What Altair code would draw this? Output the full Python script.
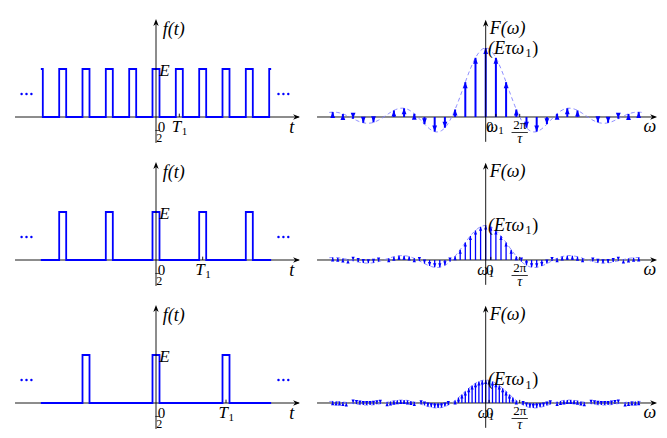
import altair as alt
import pandas as pd

# ---------------- data ----------------
# pulse train, time in units of tau (pulse width), amplitude E = 1
TAU = 1.0
PULSES = [
    [-16.67, -13.33, -10.0, -6.67, -3.33, 0.0, 3.33, 6.67, 10.0, 13.33, 16.67],
    [-13.33, -6.67, 0.0, 6.67, 13.33],
    [-10.0, 0.0, 10.0],
]
PERIODS = [3.33, 6.67, 10.0]          # T1 in units of tau
WINDOW = [-16.45, 16.45]              # drawn part of f(t)

# spectrum envelope (normalised), at omega/(2pi/tau) = 0, 0.05, 0.10, ... 4.60
ENV = [1.000, 0.996, 0.984, 0.963, 0.935, 0.900, 0.858, 0.810, 0.757, 0.699,
       0.637, 0.572, 0.505, 0.436, 0.368, 0.300, 0.234, 0.170, 0.109, 0.052,
       0.000, -0.047, -0.089, -0.126, -0.156, -0.180, -0.198, -0.210, -0.216, -0.217,
       -0.212, -0.203, -0.189, -0.172, -0.151, -0.129, -0.104, -0.078, -0.052, -0.026,
       0.000, 0.024, 0.047, 0.067, 0.085, 0.100, 0.112, 0.121, 0.126, 0.128,
       0.127, 0.123, 0.116, 0.107, 0.095, 0.082, 0.067, 0.051, 0.034, 0.017,
       0.000, -0.016, -0.032, -0.046, -0.058, -0.069, -0.078, -0.085, -0.089, -0.091,
       -0.091, -0.089, -0.084, -0.078, -0.070, -0.060, -0.049, -0.038, -0.025, -0.013,
       0.000, 0.012, 0.024, 0.035, 0.045, 0.053, 0.060, 0.065, 0.069, 0.071,
       0.071, 0.069, 0.066]
ENV_STEP = 0.05
W1 = [0.30, 0.15, 0.10]               # omega1 in units of 2pi/tau
STRIDE = [6, 3, 2]                    # omega1 / ENV_STEP
N_MAX = [15, 30, 45]                  # highest harmonic drawn
AMP = [1.0, 0.5, 0.333]               # E tau omega1 (relative)

# ---------------- styling ----------------
BLUE = "#0000ff"
ENV_COLOR = "#8080ff"
FONT = "Liberation Serif"
LW, RW, H = 300, 351, 143

LX = alt.Scale(domain=[-21.143, 21.714], nice=False, zero=False)
LY = alt.Scale(domain=[-0.708, 2.271], nice=False, zero=False)
RX = alt.Scale(domain=[-5.226, 5.097], nice=False, zero=False)
RY = alt.Scale(domain=[-0.493, 1.580], nice=False, zero=False)

ARROW_R = "M0,0L-2.3,-0.9L-1.6,0L-2.3,0.9Z"
ARROW_U = "M0,0L-0.9,2.3L0,1.6L0.9,2.3Z"
HEAD_U = "M0,0L-0.8,2L0.8,2Z"
HEAD_D = "M0,0L-0.8,-2L0.8,-2Z"


def xy(xs, ys):
    return dict(x=alt.X("x:Q", scale=xs, axis=None), y=alt.Y("y:Q", scale=ys, axis=None))


def hrule(x1, x2, y, xs, ys, color="black", w=0.9):
    d = pd.DataFrame({"x": [x1], "x2": [x2], "y": [y]})
    return alt.Chart(d).mark_rule(color=color, strokeWidth=w).encode(x2="x2:Q", **xy(xs, ys))


def vrule(x, y1, y2, xs, ys, color="black", w=0.9):
    d = pd.DataFrame({"x": [x], "y": [y1], "y2": [y2]})
    return alt.Chart(d).mark_rule(color=color, strokeWidth=w).encode(y2="y2:Q", **xy(xs, ys))


def tip(x, y, shape, xs, ys, size=36, color="black"):
    d = pd.DataFrame({"x": [x], "y": [y]})
    return alt.Chart(d).mark_point(shape=shape, filled=True, size=size, color=color,
                                   opacity=1, strokeWidth=0).encode(**xy(xs, ys))


def lab(x, y, text, xs, ys, size=14, italic=False, align="center"):
    d = pd.DataFrame({"x": [x], "y": [y], "t": [text]})
    props = dict(font=FONT, fontSize=size, align=align, baseline="middle", color="black")
    if italic:
        props["fontStyle"] = "italic"
    return alt.Chart(d).mark_text(**props).encode(text="t:N", **xy(xs, ys))


def pulse_path(centers, lo, hi):
    def level(t):
        return 1.0 if any(abs(t - c) <= TAU / 2 for c in centers) else 0.0
    pts = [(lo, level(lo))]
    for c in centers:
        for x, a, b in [(c - TAU / 2, 0.0, 1.0), (c + TAU / 2, 1.0, 0.0)]:
            if lo < x < hi:
                pts.append((x, a))
                pts.append((x, b))
    pts.append((hi, level(hi)))
    return pd.DataFrame({"x": [p[0] for p in pts], "y": [p[1] for p in pts],
                         "i": list(range(len(pts)))})


def left_panel(r):
    T1 = PERIODS[r]
    sig = pulse_path(PULSES[r], WINDOW[0], WINDOW[1])
    dots = pd.DataFrame({"x": [-19.2, -18.5, -17.8, 17.5, 18.2, 18.9], "y": [0.48] * 6})
    layers = [
        hrule(-20.14, 20.4, 0.0, LX, LY),
        tip(20.57, 0.0, ARROW_R, LX, LY),
        vrule(T1, 0.0, 0.07, LX, LY),
        alt.Chart(sig).mark_line(color=BLUE, strokeWidth=1.8, interpolate="linear")
        .encode(order="i:Q", **xy(LX, LY)),
        vrule(0.0, -0.54, 1.98, LX, LY),
        tip(0.0, 2.04, ARROW_U, LX, LY),
        alt.Chart(dots).mark_point(shape="circle", filled=True, size=6, color=BLUE,
                                   opacity=1, strokeWidth=0).encode(**xy(LX, LY)),
        lab(0.95, 1.82, "f(t)", LX, LY, size=18, italic=True, align="left"),
        lab(0.45, 0.96, "E", LX, LY, size=17, italic=True, align="left"),
        lab(19.4, -0.23, "t", LX, LY, size=18, italic=True),
        lab(0.8, -0.2, "0", LX, LY, size=15),
        hrule(-0.1, 0.55, -0.28, LX, LY, w=0.7),
        lab(0.45, -0.43, "2", LX, LY, size=12),
        lab(T1 - 0.4, -0.21, "T", LX, LY, size=17, italic=True),
        lab(T1 + 0.75, -0.31, "1", LX, LY, size=11),
    ]
    return alt.layer(*layers).properties(width=LW, height=H)


def right_panel(r):
    amp = AMP[r]
    w1 = W1[r]
    env_x, env_y = [], []
    for k in range(len(ENV) - 1, 0, -1):
        env_x.append(-k * ENV_STEP)
        env_y.append(ENV[k] * amp)
    for k in range(len(ENV)):
        env_x.append(k * ENV_STEP)
        env_y.append(ENV[k] * amp)
    env = pd.DataFrame({"x": env_x, "y": env_y, "i": list(range(len(env_x)))})

    sx, sy = [], []
    for n in range(-N_MAX[r], N_MAX[r] + 1):
        sx.append(n * w1)
        sy.append(ENV[abs(n) * STRIDE[r]] * amp)
    stems = pd.DataFrame({"x": sx, "y": sy, "y0": [0.0] * len(sx)})
    up = stems[stems.y > 0]
    dn = stems[stems.y < 0]
    sw = 2.0 if r == 0 else 1.3
    hs = 36 if r == 0 else 16

    yl = [0.99, 1.0, 1.0][r]
    wl_w = [0.2, -0.08, -0.07][r]
    wl_1 = [0.45, 0.16, 0.16][r]
    layers = [
        hrule(-4.96, 4.99, 0.0, RX, RY),
        tip(5.04, 0.0, ARROW_R, RX, RY),
        alt.Chart(env).mark_line(color=ENV_COLOR, strokeWidth=0.9, strokeDash=[4, 3])
        .encode(order="i:Q", **xy(RX, RY)),
        alt.Chart(stems).mark_rule(color=BLUE, strokeWidth=sw)
        .encode(y2="y0:Q", **xy(RX, RY)),
        alt.Chart(up).mark_point(shape=HEAD_U, filled=True, size=hs, color=BLUE,
                                 opacity=1, strokeWidth=0).encode(**xy(RX, RY)),
        alt.Chart(dn).mark_point(shape=HEAD_D, filled=True, size=hs, color=BLUE,
                                 opacity=1, strokeWidth=0).encode(**xy(RX, RY)),
        vrule(w1, 0.0, 0.045, RX, RY),
        vrule(1.0, 0.0, 0.045, RX, RY),
        vrule(0.0, -0.36, 1.37, RX, RY),
        tip(0.0, 1.41, ARROW_U, RX, RY),
        lab(0.12, 1.27, "F(ω)", RX, RY, size=18, italic=True, align="left"),
        lab(0.07, amp * yl, "(Eτω", RX, RY, size=18, italic=True, align="left"),
        lab(1.17, amp * yl - 0.065, "1", RX, RY, size=12, align="left"),
        lab(1.37, amp * yl, ")", RX, RY, size=18, align="left"),
        lab(4.83, -0.15, "ω", RX, RY, size=18, italic=True),
        lab(0.12, -0.14, "0", RX, RY, size=15),
        lab(wl_w, -0.14, "ω", RX, RY, size=16, italic=True),
        lab(wl_1, -0.2, "1", RX, RY, size=11),
        lab(1.0, -0.11, "2π", RX, RY, size=13),
        hrule(0.76, 1.24, -0.225, RX, RY, w=0.8),
        lab(1.0, -0.32, "τ", RX, RY, size=14, italic=True),
    ]
    return alt.layer(*layers).properties(width=RW, height=H)


rows = [alt.hconcat(left_panel(r), right_panel(r), spacing=0) for r in range(3)]
chart = (
    alt.vconcat(*rows, spacing=0)
    .properties(padding=0)
    .configure_view(stroke=None)
)

chart.save("out.html", embed_options={"renderer": "svg", "actions": False})
